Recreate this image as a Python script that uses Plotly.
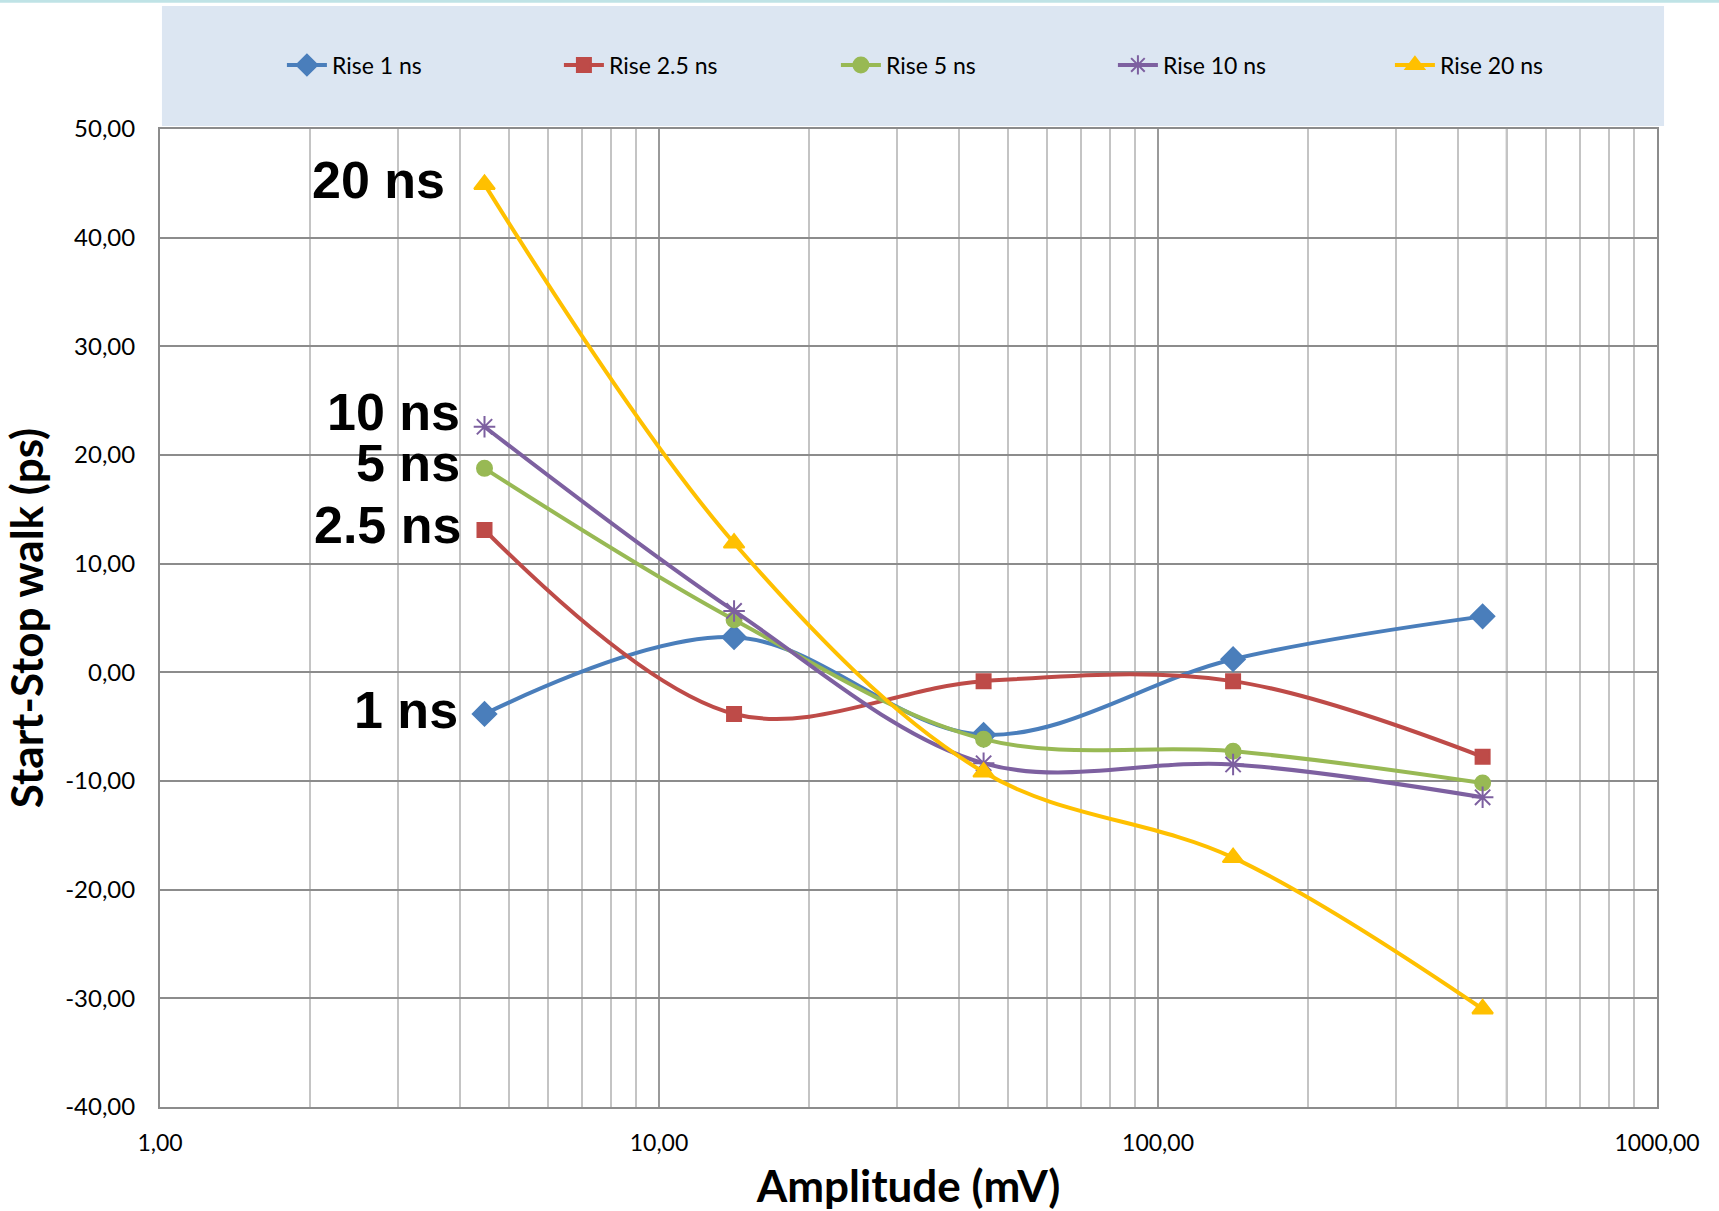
import math
import plotly.graph_objects as go

# ---------------- data ----------------
amplitude_mv = [4.47, 14.14, 44.72, 141.42, 447.21]
rise_1ns = [-3.83, 3.23, -5.75, 1.21, 5.15]
rise_2_5ns = [13.10, -3.83, -0.81, -0.81, -7.77]
rise_5ns = [18.77, 4.84, -6.15, -7.26, -10.19]
rise_10ns = [22.60, 5.65, -8.37, -8.48, -11.50]
rise_20ns = [44.90, 11.90, -9.18, -17.05, -30.98]
series_names = ["Rise 1 ns", "Rise 2.5 ns", "Rise 5 ns", "Rise 10 ns", "Rise 20 ns"]
label_texts = ["1 ns", "2.5 ns", "5 ns", "10 ns", "20 ns"]
x_tick_vals = [1, 10, 100, 1000]
x_tick_text = ["1,00", "10,00", "100,00", "1000,00"]
y_tick_vals = [-40, -30, -20, -10, 0, 10, 20, 30, 40, 50]
y_tick_text = ["-40,00", "-30,00", "-20,00", "-10,00", "0,00",
               "10,00", "20,00", "30,00", "40,00", "50,00"]
x_minor_vals = [m * d for d in (1, 10, 100) for m in range(2, 10)]
y_axis_cross_x = 500

series_values = [rise_1ns, rise_2_5ns, rise_5ns, rise_10ns, rise_20ns]

# ---------------- styles ----------------
colors = ["#4A7EBB", "#BE4B48", "#98B954", "#7D60A0", "#FFC000"]
symbols = ["diamond", "square", "circle", "asterisk-open", "triangle-up"]
marker_sizes = [18, 14, 15, 18, 18]
label_shift = [(-25, 4), (-22, 5), (-23, 5), (-23, 15), (-38, 4)]

fig = go.Figure()
for name, vals, c, s, ms in zip(series_names, series_values, colors, symbols, marker_sizes):
    fig.add_trace(go.Scatter(
        x=amplitude_mv, y=vals, name=name, mode="lines+markers",
        line=dict(color=c, width=4, shape="spline", smoothing=1.0),
        marker=dict(symbol=s, size=ms, color=c, line=dict(color=c, width=2)),
    ))

for txt, vals, (xs, ys) in zip(label_texts, series_values, label_shift):
    fig.add_annotation(
        x=math.log10(amplitude_mv[0]), y=vals[0], text=txt, showarrow=False,
        xanchor="right", yanchor="middle", xshift=xs, yshift=ys,
        font=dict(family="Liberation Sans", size=52, color="black", weight="bold"),
    )

# legend band
fig.add_shape(type="rect", xref="paper", yref="paper", x0=0.0013, x1=1.0047,
              y0=1.003, y1=1.1258, fillcolor="#DCE6F2", line=dict(width=0), layer="below")
# top thin teal line
fig.add_shape(type="rect", xref="paper", yref="paper", x0=-0.107, x1=1.042,
              y0=1.129, y1=1.1325, fillcolor="#BFE3E6", line=dict(width=0), layer="below")
# y-axis crossing line (vertical axis crosses at 500 mV)
fig.add_shape(type="line", xref="x", yref="paper", x0=y_axis_cross_x,
              x1=y_axis_cross_x, y0=0, y1=1,
              line=dict(color="#8C8C8C", width=2), layer="below")

fig.update_layout(
    width=1719, height=1211,
    margin=dict(l=160, r=62, t=129, b=104),
    paper_bgcolor="white", plot_bgcolor="white",
    font=dict(family="Lato", size=22, color="black"),
    showlegend=True,
    legend=dict(orientation="h", xref="container", x=0.164, xanchor="left",
                yref="container", y=1 - 65 / 1211, yanchor="middle",
                bgcolor="rgba(0,0,0,0)", font=dict(family="Lato", size=23),
                entrywidth=222, entrywidthmode="pixels", itemwidth=40),
    xaxis=dict(
        type="log", range=[0, 3], automargin=False,
        tickvals=x_tick_vals, ticktext=x_tick_text,
        showgrid=True, gridcolor="#9A9A9A", gridwidth=2,
        minor=dict(tickvals=x_minor_vals, showgrid=True, gridcolor="#C4C4C4", gridwidth=2, ticks=""),
        showline=True, linecolor="#8C8C8C", linewidth=2, mirror=True,
        ticks="", ticklabelstandoff=14,
        tickfont=dict(family="Lato", size=23),
        title=dict(text="<b>Amplitude (mV)</b>", font=dict(family="Lato", size=44), standoff=50),
        zeroline=False,
    ),
    yaxis=dict(
        range=[-40, 50], automargin=False,
        tickvals=y_tick_vals, ticktext=y_tick_text,
        showgrid=True, gridcolor="#8C8C8C", gridwidth=2,
        zeroline=True, zerolinecolor="#8C8C8C", zerolinewidth=2,
        showline=True, linecolor="#8C8C8C", linewidth=2, mirror=True,
        ticks="", ticklabelstandoff=18,
        tickfont=dict(family="Lato", size=24),
        title=dict(text="<b>Start-Stop walk (ps)</b>", font=dict(family="Lato", size=44), standoff=10),
    ),
)

fig.write_html("out.html")
